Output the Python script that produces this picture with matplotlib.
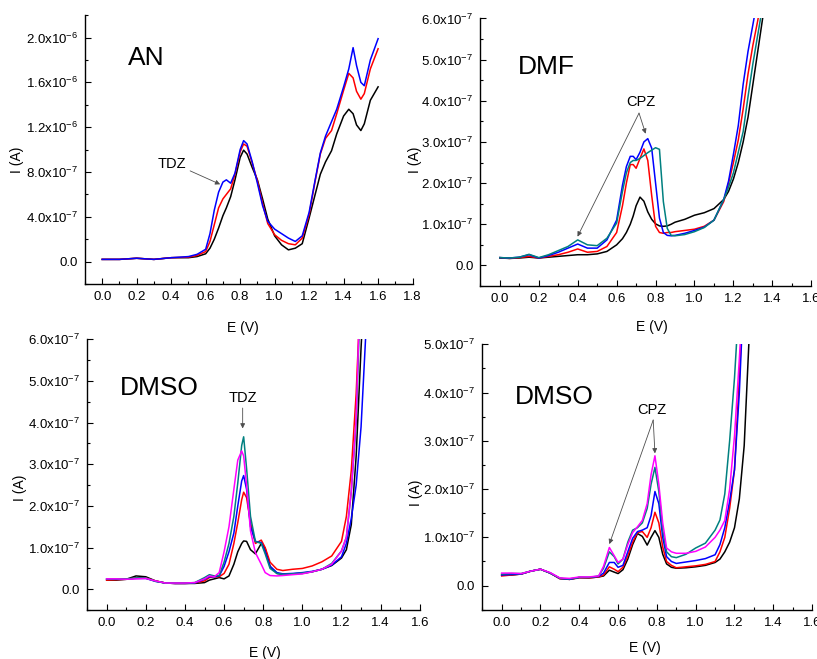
import numpy as np
import matplotlib
matplotlib.use("Agg")
import matplotlib.pyplot as plt
from matplotlib.ticker import MultipleLocator, FuncFormatter

plt.rcParams['font.family'] = ['Liberation Sans', 'DejaVu Sans']
plt.rcParams['mathtext.fontset'] = 'custom'
plt.rcParams['mathtext.rm'] = 'Liberation Sans'
plt.rcParams['mathtext.default'] = 'regular'

# currents are given in units of 1e-7 A

# AN / TDZ
E_an = [0.00, 0.10, 0.20, 0.30, 0.40, 0.50, 0.55, 0.60, 0.625, 0.65, 0.675, 0.70, 0.72,
        0.745, 0.77, 0.80, 0.82, 0.84, 0.87, 0.90, 0.93, 0.96, 1.00, 1.04, 1.08, 1.12,
        1.16, 1.20, 1.235, 1.265, 1.295, 1.33, 1.36, 1.40, 1.43, 1.455, 1.475, 1.50,
        1.52, 1.555, 1.60]
an_black = [0.2, 0.2, 0.3, 0.2, 0.35, 0.35, 0.45, 0.7, 1.2, 2.0, 3.0, 4.1, 4.8,
            5.8, 7.3, 9.3, 9.95, 9.6, 8.4, 7.3, 5.6, 3.8, 2.3, 1.5, 1.05, 1.2,
            1.6, 3.9, 6.0, 7.8, 8.9, 9.9, 11.4, 13.0, 13.6, 13.2, 12.2, 11.7,
            12.3, 14.4, 15.6]
an_red = [0.2, 0.2, 0.3, 0.2, 0.35, 0.4, 0.55, 0.9, 1.8, 3.3, 4.8, 5.6, 6.0,
          6.5, 7.8, 9.8, 10.5, 10.3, 8.8, 7.2, 5.2, 3.4, 2.4, 1.9, 1.6, 1.5,
          2.1, 4.2, 7.2, 9.6, 11.0, 11.7, 13.2, 15.3, 16.8, 16.4, 15.2, 14.5,
          15.0, 17.2, 19.0]
an_blue = [0.2, 0.2, 0.3, 0.2, 0.35, 0.45, 0.65, 1.1, 2.5, 4.6, 6.2, 7.1, 7.3,
           7.0, 7.9, 10.0, 10.8, 10.5, 8.9, 7.0, 5.0, 3.6, 2.9, 2.5, 2.1, 1.8,
           2.3, 4.4, 7.3, 9.7, 11.2, 12.5, 13.6, 15.6, 17.2, 19.1, 17.5, 16.0,
           15.7, 18.0, 19.9]

# DMF / CPZ
E_dmf = [0.0, 0.05, 0.1, 0.15, 0.2, 0.25, 0.3, 0.35, 0.4, 0.45, 0.5, 0.55, 0.6,
         0.63, 0.65, 0.67, 0.685, 0.70, 0.72, 0.74, 0.76, 0.78, 0.80, 0.82, 0.84,
         0.86, 0.88, 0.9, 0.95, 1.0, 1.05, 1.1, 1.15, 1.175, 1.2, 1.225, 1.25, 1.275,
         1.3, 1.325, 1.35, 1.4]
dmf_black = [0.18, 0.17, 0.18, 0.2, 0.18, 0.2, 0.22, 0.24, 0.26, 0.26, 0.28, 0.34, 0.5,
             0.65, 0.8, 1.0, 1.2, 1.45, 1.66, 1.56, 1.3, 1.12, 1.01, 0.96, 0.95,
             0.96, 1.0, 1.05, 1.12, 1.22, 1.28, 1.38, 1.6, 1.8, 2.1, 2.5, 3.0, 3.6,
             4.4, 5.2, 6.0, 7.5]
dmf_red = [0.19, 0.17, 0.19, 0.22, 0.18, 0.22, 0.26, 0.32, 0.40, 0.32, 0.34, 0.46, 0.8,
           1.45, 2.0, 2.45, 2.45, 2.36, 2.6, 2.83, 2.55, 1.7, 0.95, 0.8, 0.78,
           0.8, 0.8, 0.82, 0.85, 0.88, 0.95, 1.1, 1.55, 2.0, 2.5, 3.05, 3.8, 4.65,
           5.35, 5.95, 6.6, 7.8]
dmf_blue = [0.19, 0.18, 0.2, 0.26, 0.18, 0.24, 0.32, 0.42, 0.52, 0.42, 0.42, 0.62, 1.1,
            1.95, 2.4, 2.65, 2.65, 2.57, 2.75, 3.0, 3.08, 2.85, 2.0, 1.15, 0.8,
            0.73, 0.72, 0.73, 0.78, 0.85, 0.93, 1.1, 1.6, 2.05, 2.7, 3.4, 4.4, 5.2,
            5.85, 6.5, 7.2, 8.5]
dmf_teal = [0.19, 0.18, 0.2, 0.27, 0.19, 0.26, 0.36, 0.46, 0.62, 0.5, 0.48, 0.66, 1.03,
            1.8, 2.25, 2.5, 2.55, 2.55, 2.6, 2.67, 2.74, 2.8, 2.86, 2.82, 1.55,
            0.9, 0.73, 0.72, 0.75, 0.82, 0.92, 1.1, 1.6, 1.9, 2.25, 2.75, 3.25, 4.1,
            4.9, 5.6, 6.3, 7.6]

# DMSO / TDZ
E_tdz = [0.0, 0.05, 0.1, 0.15, 0.2, 0.25, 0.3, 0.35, 0.4, 0.45, 0.5, 0.525, 0.55,
         0.575, 0.6, 0.625, 0.65, 0.67, 0.69, 0.70, 0.715, 0.735, 0.76, 0.79, 0.81,
         0.835, 0.87, 0.9, 0.95, 1.0, 1.05, 1.1, 1.15, 1.2, 1.225, 1.25, 1.275, 1.3,
         1.325, 1.35]
tdz_black = [0.22, 0.22, 0.24, 0.32, 0.3, 0.2, 0.15, 0.14, 0.14, 0.14, 0.16, 0.22, 0.25,
             0.28, 0.25, 0.32, 0.6, 0.9, 1.1, 1.16, 1.15, 0.95, 0.85, 1.1, 0.98,
             0.55, 0.38, 0.36, 0.37, 0.38, 0.42, 0.48, 0.57, 0.75, 0.95, 1.55, 3.2, 5.8,
             8.0, 9.5]
tdz_red = [0.22, 0.23, 0.24, 0.27, 0.27, 0.2, 0.15, 0.14, 0.14, 0.15, 0.2, 0.28, 0.3,
           0.3, 0.38, 0.6, 1.1, 1.6, 2.15, 2.33, 2.2, 1.6, 1.1, 1.18, 1.0,
           0.65, 0.48, 0.45, 0.48, 0.5, 0.56, 0.66, 0.8, 1.15, 1.75, 2.85, 4.7, 7.5,
           9.0, 10.5]
tdz_blue = [0.25, 0.24, 0.24, 0.26, 0.26, 0.19, 0.15, 0.14, 0.14, 0.15, 0.24, 0.3, 0.3,
            0.32, 0.55, 0.9, 1.35, 2.0, 2.6, 2.73, 2.4, 1.5, 1.15, 1.12, 0.9,
            0.55, 0.4, 0.37, 0.38, 0.4, 0.43, 0.48, 0.58, 0.78, 1.1, 1.7, 2.5, 3.9,
            6.2, 8.0]
tdz_teal = [0.25, 0.25, 0.25, 0.27, 0.27, 0.19, 0.15, 0.15, 0.15, 0.16, 0.28, 0.35, 0.32,
            0.33, 0.65, 1.1, 1.75, 2.55, 3.45, 3.66, 2.9, 1.75, 1.15, 1.1, 0.85,
            0.5, 0.38, 0.36, 0.37, 0.39, 0.42, 0.48, 0.62, 0.92, 1.25, 2.35, 4.0, 7.6,
            9.0, 10.5]
tdz_magenta = [0.25, 0.25, 0.24, 0.25, 0.26, 0.2, 0.15, 0.15, 0.15, 0.16, 0.25, 0.32, 0.3,
               0.4, 0.9, 1.5, 2.4, 3.1, 3.32, 3.2, 2.5, 1.4, 0.88, 0.6, 0.4,
               0.33, 0.32, 0.33, 0.35, 0.37, 0.42, 0.48, 0.6, 0.92, 1.25, 2.35, 4.1, 8.0,
               9.0, 10.5]

# DMSO / CPZ
E_cpz = [0.0, 0.05, 0.1, 0.15, 0.2, 0.25, 0.3, 0.35, 0.4, 0.45, 0.5, 0.525, 0.555,
         0.58, 0.6, 0.625, 0.65, 0.675, 0.7, 0.725, 0.75, 0.77, 0.79, 0.81, 0.83,
         0.85, 0.875, 0.9, 0.95, 1.0, 1.05, 1.1, 1.125, 1.15, 1.175, 1.2, 1.225, 1.25,
         1.275, 1.3]
cpz_black = [0.22, 0.22, 0.24, 0.3, 0.34, 0.26, 0.15, 0.13, 0.17, 0.16, 0.18, 0.2, 0.32,
             0.28, 0.25, 0.33, 0.55, 0.85, 1.08, 1.02, 0.84, 1.0, 1.14, 1.0, 0.65,
             0.45, 0.38, 0.36, 0.37, 0.39, 0.42, 0.48, 0.55, 0.7, 0.9, 1.2, 1.8, 2.9,
             5.1, 7.0]
cpz_red = [0.2, 0.22, 0.24, 0.3, 0.34, 0.26, 0.14, 0.13, 0.16, 0.16, 0.18, 0.22, 0.39,
           0.34, 0.29, 0.38, 0.62, 0.9, 1.1, 1.12, 1.0, 1.2, 1.52, 1.3, 0.8,
           0.5, 0.42, 0.37, 0.39, 0.41, 0.44, 0.5, 0.7, 1.0, 1.6, 2.4, 4.3, 6.5,
           8.0, 9.0]
cpz_blue = [0.22, 0.23, 0.24, 0.3, 0.34, 0.26, 0.15, 0.13, 0.17, 0.17, 0.19, 0.26, 0.48,
            0.48, 0.38, 0.42, 0.7, 0.98, 1.12, 1.15, 1.2, 1.45, 1.95, 1.7, 1.0,
            0.6, 0.5, 0.46, 0.49, 0.52, 0.56, 0.64, 0.85, 1.2, 1.75, 2.4, 4.0, 6.3,
            8.0, 9.0]
cpz_teal = [0.24, 0.25, 0.25, 0.3, 0.34, 0.26, 0.15, 0.14, 0.17, 0.17, 0.2, 0.36, 0.7,
            0.6, 0.45, 0.55, 0.9, 1.15, 1.2, 1.3, 1.6, 2.1, 2.45, 1.95, 1.15,
            0.7, 0.6, 0.58, 0.65, 0.78, 0.88, 1.15, 1.36, 1.9, 3.0, 4.3, 6.0, 7.5,
            8.5, 9.5]
cpz_magenta = [0.26, 0.26, 0.25, 0.3, 0.34, 0.27, 0.16, 0.15, 0.18, 0.18, 0.2, 0.4, 0.79,
               0.62, 0.48, 0.55, 0.85, 1.1, 1.22, 1.35, 1.7, 2.3, 2.69, 2.1, 1.3,
               0.78, 0.7, 0.67, 0.67, 0.71, 0.8, 1.0, 1.15, 1.35, 2.0, 3.1, 4.7, 6.5,
               8.0, 9.0]

colors = {'black': '#000000', 'red': '#ff0000', 'blue': '#0000ff',
          'teal': '#008080', 'magenta': '#ff00ff'}


def sci_label(v, pos):
    if abs(v) < 1e-12:
        return '0.0'
    e = int(np.floor(np.log10(abs(v)) + 1e-9))
    m = v / 10**e
    return f'{m:.1f}x10$^{{{e}}}$'


def style_axes(ax, xmax, ymin, ymax, ymajor, xlab_pos, ylab_pos):
    ax.set_xlim(-0.1, xmax)
    ax.set_ylim(ymin, ymax)
    for s in ['top', 'right']:
        ax.spines[s].set_visible(False)
    for s in ['left', 'bottom']:
        ax.spines[s].set_linewidth(1.0)
    ax.xaxis.set_major_locator(MultipleLocator(0.2))
    ax.xaxis.set_minor_locator(MultipleLocator(0.1))
    ax.yaxis.set_major_locator(MultipleLocator(ymajor))
    ax.yaxis.set_minor_locator(MultipleLocator(ymajor / 2))
    ax.xaxis.set_major_formatter(FuncFormatter(lambda v, p: f'{v:.1f}'))
    ax.yaxis.set_major_formatter(FuncFormatter(sci_label))
    ax.tick_params(which='major', direction='in', length=4, width=0.8, labelsize=9.5, pad=5)
    ax.tick_params(which='minor', direction='in', length=2.3, width=0.8)
    ax.set_xlabel('E (V)', fontsize=10)
    ax.set_ylabel('I (A)', fontsize=10)
    ax.xaxis.label.set_va('center')
    ax.yaxis.label.set_va('center')
    ax.xaxis.set_label_coords(*xlab_pos)
    ax.yaxis.set_label_coords(*ylab_pos)


def draw(ax, E, series):
    for name, vals in series:
        ax.plot(E, np.array(vals) * 1e-7, color=colors[name], lw=1.1)


def arrow(ax, start, tip):
    ax.annotate('', xy=(tip[0], tip[1] * 1e-7), xytext=(start[0], start[1] * 1e-7),
                arrowprops=dict(arrowstyle='-|>', color='0.3', lw=0.6,
                                mutation_scale=7, shrinkA=0, shrinkB=0))


fig = plt.figure(figsize=(8.17, 6.59), dpi=100)

ax1 = fig.add_axes([0.104, 0.569, 0.401, 0.408])
ax2 = fig.add_axes([0.588, 0.566, 0.405, 0.406])
ax3 = fig.add_axes([0.1066, 0.0742, 0.4072, 0.4109])
ax4 = fig.add_axes([0.5903, 0.0747, 0.4037, 0.4029])

# AN
draw(ax1, E_an, [('black', an_black), ('red', an_red), ('blue', an_blue)])
style_axes(ax1, 1.8, -2e-7, 2.2e-6, 4e-7, (0.482, -0.164), (-0.208, 0.461))
ax1.text(0.131, 0.84, 'AN', transform=ax1.transAxes, fontsize=19, va='center')
ax1.text(0.406, 8.7e-7, 'TDZ', fontsize=10.5, ha='center', va='center')
arrow(ax1, (0.51, 8.1), (0.684, 6.9))

# DMF
draw(ax2, E_dmf, [('black', dmf_black), ('red', dmf_red), ('blue', dmf_blue),
                  ('teal', dmf_teal)])
style_axes(ax2, 1.6, -0.5e-7, 6e-7, 1e-7, (0.518, -0.153), (-0.198, 0.471))
ax2.text(0.113, 0.82, 'DMF', transform=ax2.transAxes, fontsize=19, va='center')
ax2.text(0.722, 3.97e-7, 'CPZ', fontsize=10.5, ha='center', va='center')
arrow(ax2, (0.715, 3.7), (0.399, 0.70))
arrow(ax2, (0.715, 3.7), (0.749, 3.2))

# DMSO / TDZ
draw(ax3, E_tdz, [('black', tdz_black), ('red', tdz_red), ('blue', tdz_blue),
                  ('teal', tdz_teal), ('magenta', tdz_magenta)])
style_axes(ax3, 1.6, -0.5e-7, 6e-7, 1e-7, (0.535, -0.158), (-0.202, 0.451))
ax3.text(0.10, 0.82, 'DMSO', transform=ax3.transAxes, fontsize=19, va='center')
ax3.text(0.695, 4.6e-7, 'TDZ', fontsize=10.5, ha='center', va='center')
arrow(ax3, (0.695, 4.35), (0.695, 3.86))

# DMSO / CPZ
draw(ax4, E_cpz, [('black', cpz_black), ('red', cpz_red), ('blue', cpz_blue),
                  ('teal', cpz_teal), ('magenta', cpz_magenta)])
style_axes(ax4, 1.6, -0.5e-7, 5e-7, 1e-7, (0.493, -0.144), (-0.201, 0.44))
ax4.text(0.099, 0.80, 'DMSO', transform=ax4.transAxes, fontsize=19, va='center')
ax4.text(0.776, 3.63e-7, 'CPZ', fontsize=10.5, ha='center', va='center')
arrow(ax4, (0.781, 3.43), (0.555, 0.86))
arrow(ax4, (0.781, 3.43), (0.79, 2.74))

fig.savefig('out.png', dpi=100)
